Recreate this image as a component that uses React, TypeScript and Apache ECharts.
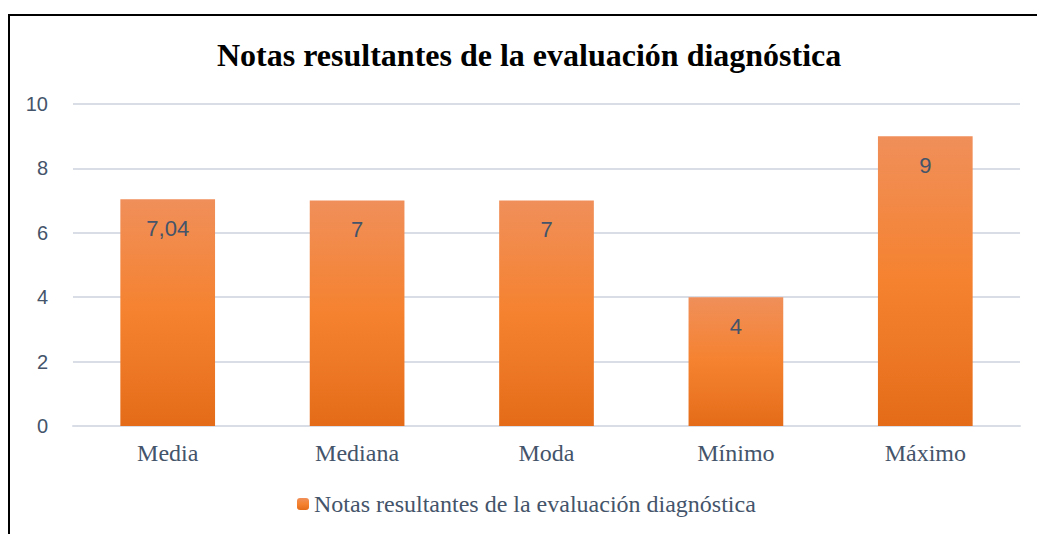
import React, { useEffect, useRef } from "react";
import * as echarts from "echarts";

const titleText = "Notas resultantes de la evaluación diagnóstica";
const categories = ["Media", "Mediana", "Moda", "Mínimo", "Máximo"];
const values = [7.04, 7, 7, 4, 9];
const yTicks = { min: 0, max: 10, interval: 2 };

export default function App() {
  const ref = useRef<HTMLDivElement>(null);
  useEffect(() => {
    if (!ref.current) return;
    const chart = echarts.init(ref.current, null, { renderer: "svg" });
    chart.setOption({
      animation: false,
      backgroundColor: "#ffffff",
      title: {
        text: titleText,
        left: 212,
        top: 34,
        textStyle: {
          fontFamily: "Liberation Serif",
          fontWeight: "bold",
          fontSize: 32,
          color: "#000000",
        },
      },
      graphic: [
        {
          type: "polyline",
          shape: { points: [[9, 534], [9, 15], [1037, 15]] },
          style: { stroke: "#000000", lineWidth: 2, fill: "none" },
          silent: true,
        },
      ],
      legend: {
        bottom: 13,
        left: 292,
        itemWidth: 12,
        itemHeight: 12,
        itemGap: 10,
        textStyle: {
          fontFamily: "Liberation Serif",
          fontSize: 24,
          color: "#44546A",
        },
        data: [titleText],
      },
      grid: { left: 73, right: 17, top: 104, bottom: 108 },
      xAxis: {
        type: "category",
        data: categories,
        axisLine: { show: true, lineStyle: { color: "#D9DDE6", width: 2 } },
        axisTick: { show: false },
        axisLabel: {
          margin: 15,
          fontFamily: "Liberation Serif",
          fontSize: 24,
          color: "#44546A",
        },
      },
      yAxis: {
        type: "value",
        min: yTicks.min,
        max: yTicks.max,
        interval: yTicks.interval,
        axisLine: { show: false },
        axisTick: { show: false },
        splitLine: { lineStyle: { color: "#D9DDE6", width: 2 } },
        axisLabel: {
          margin: 25,
          fontFamily: "Liberation Sans",
          fontSize: 20,
          color: "#44546A",
        },
      },
      series: [
        {
          name: titleText,
          type: "bar",
          data: values,
          barWidth: "50%",
          itemStyle: {
            color: new echarts.graphic.LinearGradient(0, 0, 0, 1, [
              { offset: 0, color: "#F08F5A" },
              { offset: 0.5, color: "#F5822F" },
              { offset: 1, color: "#E46C19" },
            ]),
          },
          label: {
            show: true,
            position: "insideTop",
            distance: 18,
            fontFamily: "Liberation Sans",
            fontSize: 22,
            color: "#44546A",
            formatter: (p: any) => String(p.value).replace(".", ","),
          },
        },
      ],
    });
    return () => chart.dispose();
  }, []);
  return (
    <div
      ref={ref}
      style={{ position: "fixed", left: 0, top: 0, width: 1037, height: 534 }}
    />
  );
}
